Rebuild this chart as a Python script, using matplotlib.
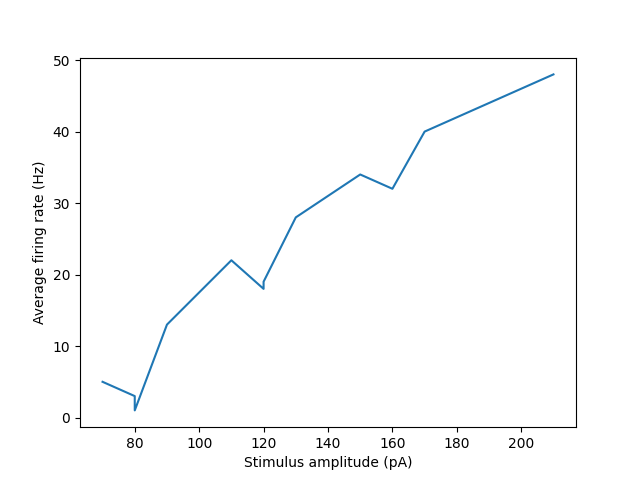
import matplotlib
matplotlib.use('Agg')
import matplotlib.pyplot as plt

# stimulus amplitudes (pA) and average firing rates (Hz)
amplitude = [70, 80, 80, 90, 110, 120, 120, 130, 150, 160, 170, 210]
rate = [5, 3, 1, 13, 22, 18, 19, 28, 34, 32, 40, 48]

fig, ax = plt.subplots(figsize=(6.4, 4.8), dpi=100)
ax.plot(amplitude, rate)
ax.set_xlabel('Stimulus amplitude (pA)')
ax.set_ylabel('Average firing rate (Hz)')

fig.savefig('out.png')
